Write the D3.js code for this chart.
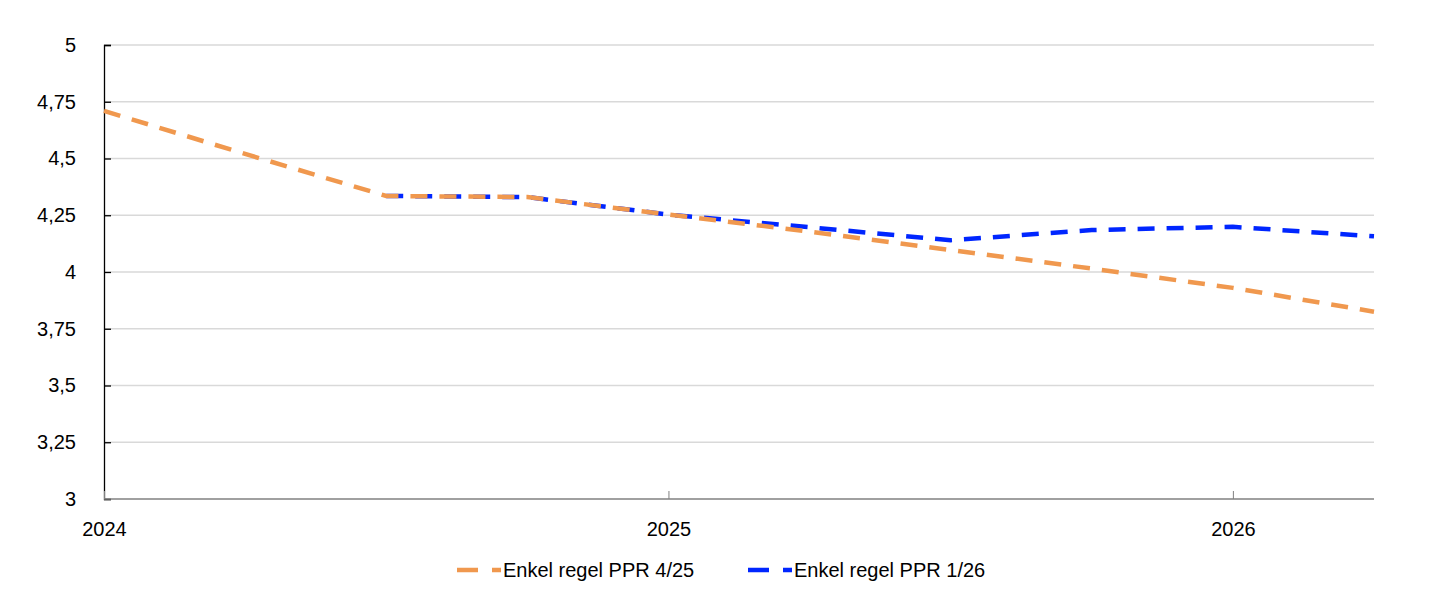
<!DOCTYPE html>
<html>
<head>
<meta charset="utf-8">
<script src="https://cdn.jsdelivr.net/npm/d3@7"></script>
<style>
  body { margin: 0; background: #fff; }
  svg text { font-family: "Liberation Sans", Arial, sans-serif; fill: #000; }
</style>
</head>
<body>
<svg id="chart"></svg>
<script>
// Quarters on the x axis
const quarters = ["2024K1", "2024K2", "2024K3", "2024K4", "2025K1", "2025K2", "2025K3", "2025K4", "2026K1", "2026K2"];
const ppr425 = [4.71, 4.52, 4.335, 4.33, 4.253, 4.178, 4.097, 4.015, 3.93, 3.825];
const ppr126 = [null, null, 4.335, 4.33, 4.253, 4.197, 4.14, 4.185, 4.199, 4.157];
const yTicks = [3, 3.25, 3.5, 3.75, 4, 4.25, 4.5, 4.75, 5];
const seriesNames = ["Enkel regel PPR 4/25", "Enkel regel PPR 1/26"];

const width = 1445;
const height = 602;
const margin = { top: 45, right: 71, bottom: 103, left: 104 };
const colors = { orange: "#F0984E", blue: "#0026FF" };

const svg = d3.select("#chart").attr("width", width).attr("height", height);

const x = d3.scalePoint().domain(quarters).range([margin.left, width - margin.right]);
const y = d3.scaleLinear().domain([3, 5]).range([height - margin.bottom, margin.top]);

const locale = d3.formatLocale({ decimal: ",", thousands: " ", grouping: [3], currency: ["", ""] });
const fmt = locale.format("~g");

// gridlines
svg.append("g")
  .selectAll("line")
  .data(yTicks.filter((d) => d > 3))
  .enter()
  .append("line")
  .attr("x1", margin.left)
  .attr("x2", width - margin.right)
  .attr("y1", (d) => y(d))
  .attr("y2", (d) => y(d))
  .style("stroke", "#D9D9D9")
  .style("stroke-width", 1.3);

// y axis: ticks point inwards
const yAxis = svg.append("g")
  .attr("transform", `translate(${margin.left},0)`)
  .call(d3.axisLeft(y).tickValues(yTicks).tickSize(-7).tickPadding(28).tickFormat(fmt));
yAxis.select(".domain").attr("stroke", "#000").attr("stroke-width", 1.3);
yAxis.selectAll(".tick line").attr("stroke", "#000").attr("stroke-width", 1.3);
yAxis.selectAll("text").style("font-size", "20px").attr("fill", "#000");

// x axis: labels only for first quarter of each year
const yearTicks = quarters.filter((q) => q.endsWith("K1"));
const xAxis = svg.append("g")
  .attr("transform", `translate(0,${height - margin.bottom})`)
  .call(d3.axisBottom(x).tickValues(yearTicks).tickSize(-8).tickPadding(23).tickFormat((q) => q.slice(0, 4)));
xAxis.select(".domain").attr("stroke", "#808080").attr("stroke-width", 1.6).attr("d", `M${margin.left},0H${width - margin.right}`);
xAxis.selectAll(".tick line").attr("stroke", "#808080").attr("stroke-width", 1);
xAxis.selectAll("text").style("font-size", "20px").attr("fill", "#000");

// lines
const line = d3.line()
  .defined((d) => d[1] != null)
  .x((d) => x(d[0]))
  .y((d) => y(d[1]));

const series = [
  { name: seriesNames[1], values: ppr126, color: colors.blue },
  { name: seriesNames[0], values: ppr425, color: colors.orange }
];

svg.append("g")
  .selectAll("path")
  .data(series)
  .enter()
  .append("path")
  .attr("d", (s) => line(quarters.map((q, i) => [q, s.values[i]])))
  .style("fill", "none")
  .style("stroke", (s) => s.color)
  .style("stroke-width", 4.5)
  .style("stroke-dasharray", "17,12");

// legend
const legendItems = [
  { name: seriesNames[0], color: colors.orange, x0: 457 },
  { name: seriesNames[1], color: colors.blue, x0: 748 }
];
const legend = svg.append("g").selectAll("g").data(legendItems).enter().append("g")
  .attr("transform", (d) => `translate(${d.x0},570)`);
legend.append("line")
  .attr("x1", 0).attr("x2", 44).attr("y1", 0).attr("y2", 0)
  .style("stroke", (d) => d.color)
  .style("stroke-width", 4.5)
  .style("stroke-dasharray", "21,14");
legend.append("text")
  .attr("x", 46)
  .attr("dy", "0.35em")
  .style("font-size", "20px")
  .text((d) => d.name);
</script>
</body>
</html>
